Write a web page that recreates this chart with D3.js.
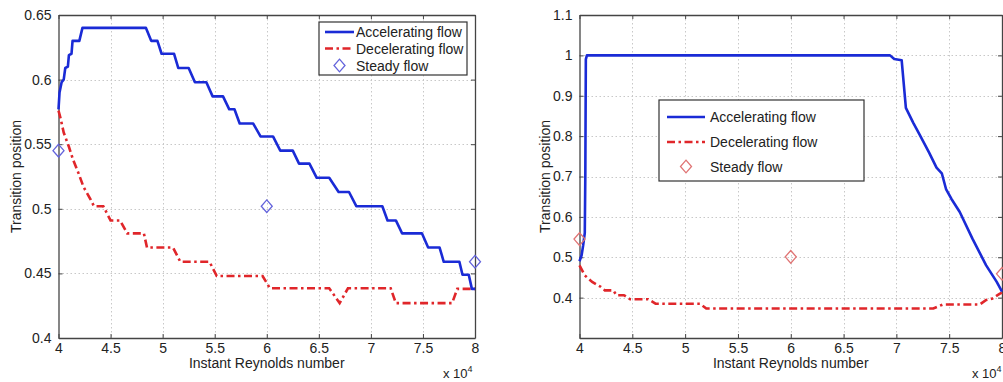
<!DOCTYPE html>
<html>
<head>
<meta charset="utf-8">
<script src="https://cdn.jsdelivr.net/npm/d3@7"></script>
<style>
  html, body { margin: 0; padding: 0; background: #fff; }
  svg { display: block; }
  text { font-family: "Liberation Sans", Arial, Helvetica, sans-serif; fill: #222; }
</style>
</head>
<body>
<svg id="chart" width="1003" height="382"></svg>
<script>
// ---------------- data ----------------
const xTicks = [4, 4.5, 5, 5.5, 6, 6.5, 7, 7.5, 8];
const xTickLabels = ["4", "4.5", "5", "5.5", "6", "6.5", "7", "7.5", "8"];
const leftYTicks = [0.4, 0.45, 0.5, 0.55, 0.6, 0.65];
const leftYTickLabels = ["0.4", "0.45", "0.5", "0.55", "0.6", "0.65"];
const rightYTicks = [0.3, 0.4, 0.5, 0.6, 0.7, 0.8, 0.9, 1.0, 1.1];
const rightYTickLabels = ["", "0.4", "0.5", "0.6", "0.7", "0.8", "0.9", "1", "1.1"];
const seriesNames = ["Accelerating flow", "Decelerating flow", "Steady flow"];
const xLabel = "Instant Reynolds number";
const yLabel = "Transition position";

// Reynolds number in units of 10^4, transition position
const leftAccel = [
  [4.00,0.577],[4.01,0.590],[4.03,0.598],[4.05,0.600],[4.065,0.609],[4.09,0.610],
  [4.10,0.619],[4.125,0.620],[4.135,0.630],[4.20,0.630],[4.23,0.640],[4.84,0.640],
  [4.89,0.630],[4.95,0.630],[4.99,0.620],[5.11,0.620],[5.15,0.609],[5.25,0.609],
  [5.31,0.598],[5.42,0.598],[5.48,0.587],[5.58,0.587],[5.64,0.577],[5.69,0.577],
  [5.74,0.566],[5.87,0.566],[5.94,0.556],[6.06,0.556],[6.13,0.545],[6.25,0.545],
  [6.31,0.535],[6.41,0.535],[6.48,0.524],[6.60,0.524],[6.69,0.513],[6.79,0.513],
  [6.86,0.502],[7.11,0.502],[7.16,0.491],[7.24,0.491],[7.30,0.481],[7.49,0.481],
  [7.55,0.470],[7.66,0.470],[7.70,0.459],[7.85,0.459],[7.88,0.449],[7.94,0.449],
  [7.97,0.438],[8.00,0.438]
];
const leftDecel = [
  [4.00,0.576],[4.02,0.570],[4.05,0.559],[4.10,0.548],[4.14,0.538],[4.19,0.528],
  [4.24,0.517],[4.31,0.507],[4.34,0.502],[4.43,0.502],[4.50,0.491],[4.59,0.491],
  [4.66,0.481],[4.82,0.481],[4.85,0.470],[5.10,0.470],[5.17,0.459],[5.45,0.459],
  [5.52,0.448],[5.96,0.448],[6.03,0.4385],[6.60,0.4385],[6.70,0.427],[6.78,0.4385],
  [7.19,0.4385],[7.24,0.427],[7.78,0.427],[7.83,0.438],[8.00,0.438]
];
const leftSteady = [[4.0,0.545],[6.0,0.502],[8.0,0.459]];

const rightAccel = [
  [4.00,0.490],[4.02,0.505],[4.035,0.530],[4.05,0.560],[4.055,0.700],[4.06,0.990],
  [4.07,1.000],[6.94,1.000],[6.98,0.991],[7.05,0.988],[7.09,0.870],[7.16,0.833],
  [7.22,0.804],[7.31,0.759],[7.38,0.722],[7.43,0.708],[7.47,0.669],[7.52,0.645],
  [7.60,0.612],[7.72,0.546],[7.85,0.480],[7.95,0.439],[8.00,0.415]
];
const rightDecel = [
  [4.00,0.480],[4.05,0.455],[4.12,0.439],[4.20,0.427],[4.24,0.418],[4.32,0.418],
  [4.35,0.406],[4.42,0.406],[4.48,0.396],[4.65,0.396],[4.72,0.385],[5.14,0.385],
  [5.20,0.373],[7.35,0.373],[7.44,0.383],[7.79,0.383],[7.85,0.394],[7.91,0.398],
  [7.98,0.410],[8.00,0.412]
];
const rightSteady = [[4.0,0.545],[6.0,0.501],[8.0,0.459]];

// ---------------- styles ----------------
const BLUE = "#1a2bd6";
const RED = "#e0262a";
const svg = d3.select("#chart");

function drawPanel(cfg) {
  const x = d3.scaleLinear().domain([4, 8]).range([cfg.left, cfg.right]);
  const y = d3.scaleLinear().domain(cfg.yDomain).range([cfg.bottom, cfg.top]);
  const g = svg.append("g");

  // grid
  const grid = g.append("g").attr("stroke", "#c8c8c8").attr("stroke-width", 1)
    .attr("stroke-dasharray", "1.5,2.5");
  grid.selectAll("line.vx").data(xTicks.slice(1, -1)).join("line")
    .attr("x1", d => Math.round(x(d)) + 0.5).attr("x2", d => Math.round(x(d)) + 0.5)
    .attr("y1", cfg.top).attr("y2", cfg.bottom);
  grid.selectAll("line.hy").data(cfg.yTicks.filter(t => t > cfg.yDomain[0] + 1e-9 && t < cfg.yDomain[1] - 1e-9)).join("line")
    .attr("y1", d => Math.round(y(d)) + 0.5).attr("y2", d => Math.round(y(d)) + 0.5)
    .attr("x1", cfg.left).attr("x2", cfg.right);

  // axes with inward ticks
  const axB = d3.axisBottom(x).tickValues(xTicks).tickFormat((d, i) => xTickLabels[i]).tickSizeInner(-4).tickSizeOuter(0).tickPadding(5);
  const axT = d3.axisTop(x).tickValues(xTicks).tickFormat("").tickSizeInner(-4).tickSizeOuter(0);
  const axL = d3.axisLeft(y).tickValues(cfg.yTicks).tickFormat((d, i) => cfg.yTickLabels[i]).tickSizeInner(-4).tickSizeOuter(0).tickPadding(7);
  const axR = d3.axisRight(y).tickValues(cfg.yTicks).tickFormat("").tickSizeInner(-4).tickSizeOuter(0);
  const axes = [
    g.append("g").attr("transform", `translate(0,${cfg.bottom})`).call(axB),
    g.append("g").attr("transform", `translate(0,${cfg.top})`).call(axT),
    g.append("g").attr("transform", `translate(${cfg.left},0)`).call(axL),
    g.append("g").attr("transform", `translate(${cfg.right},0)`).call(axR)
  ];
  axes.forEach(a => {
    a.select(".domain").attr("stroke", "#444").attr("stroke-width", 1.3);
    a.selectAll(".tick line").attr("stroke", "#444");
    a.selectAll(".tick text").attr("font-size", 14).attr("fill", "#222")
      .attr("font-family", "'Liberation Sans', Arial, sans-serif");
  });

  // series
  const line = d3.line().x(d => x(d[0])).y(d => y(d[1]));
  const plot = g.append("g");
  plot.append("path").datum(cfg.decel).attr("d", line).attr("fill", "none")
    .attr("stroke", RED).attr("stroke-width", 2.6).attr("stroke-dasharray", "8,3.5,2.5,3.5");
  plot.append("path").datum(cfg.accel).attr("d", line).attr("fill", "none")
    .attr("stroke", BLUE).attr("stroke-width", 2.6).attr("stroke-linejoin", "round");
  const diamond = (cx, cy, r) => `M${cx},${cy - r * 1.15}L${cx + r},${cy}L${cx},${cy + r * 1.15}L${cx - r},${cy}Z`;
  plot.selectAll("path.steady").data(cfg.steady).join("path")
    .attr("d", d => diamond(x(d[0]), y(d[1]), 5.5))
    .attr("fill", "none").attr("stroke", cfg.steadyColor).attr("stroke-width", 1.3);

  // axis labels
  g.append("text").attr("x", (cfg.left + cfg.right) / 2).attr("y", 368)
    .attr("text-anchor", "middle").attr("font-size", 14).text(xLabel);
  g.append("text").attr("transform", `translate(${cfg.yLabelX},${(cfg.top + cfg.bottom) / 2}) rotate(-90)`)
    .attr("text-anchor", "middle").attr("font-size", 14).text(yLabel);
  const exp = g.append("text").attr("x", cfg.expX).attr("y", 378).attr("font-size", 13);
  exp.append("tspan").text("x 10");
  exp.append("tspan").attr("dy", -6).attr("font-size", 9).text("4");

  // legend
  const L = cfg.legend;
  const lg = g.append("g");
  lg.append("rect").attr("x", L.x).attr("y", L.y).attr("width", L.w).attr("height", L.h)
    .attr("fill", "#fff").attr("stroke", "#333").attr("stroke-width", 1.2);
  const rowsY = L.rows;
  lg.append("line").attr("x1", L.lx1).attr("x2", L.lx2).attr("y1", rowsY[0]).attr("y2", rowsY[0])
    .attr("stroke", BLUE).attr("stroke-width", 2.6);
  lg.append("line").attr("x1", L.lx1).attr("x2", L.lx2).attr("y1", rowsY[1]).attr("y2", rowsY[1])
    .attr("stroke", RED).attr("stroke-width", 2.6).attr("stroke-dasharray", "8,3.5,2.5,3.5");
  lg.append("path").attr("d", diamond((L.lx1 + L.lx2) / 2, rowsY[2], 5.5))
    .attr("fill", "none").attr("stroke", cfg.steadyColor).attr("stroke-width", 1.3);
  lg.selectAll("text").data(seriesNames).join("text")
    .attr("x", L.tx).attr("y", (d, i) => rowsY[i] + 5).attr("font-size", 14).text(d => d);
}

drawPanel({
  id: "L", left: 58.5, right: 475, top: 15, bottom: 338,
  yDomain: [0.4, 0.65], yTicks: leftYTicks, yTickLabels: leftYTickLabels,
  accel: leftAccel, decel: leftDecel, steady: leftSteady, steadyColor: "#6464dc",
  yLabelX: 21, expX: 443,
  legend: { x: 319, y: 22, w: 148, h: 53, rows: [32, 48.5, 65.5], lx1: 325, lx2: 354, tx: 356 }
});

drawPanel({
  id: "R", left: 579.5, right: 1002, top: 15, bottom: 338,
  yDomain: [0.3, 1.1], yTicks: rightYTicks, yTickLabels: rightYTickLabels,
  accel: rightAccel, decel: rightDecel, steady: rightSteady, steadyColor: "#e07474",
  yLabelX: 550, expX: 972,
  legend: { x: 659, y: 100, w: 205, h: 81, rows: [117, 142, 166.5], lx1: 667, lx2: 705, tx: 710 }
});
</script>
</body>
</html>
